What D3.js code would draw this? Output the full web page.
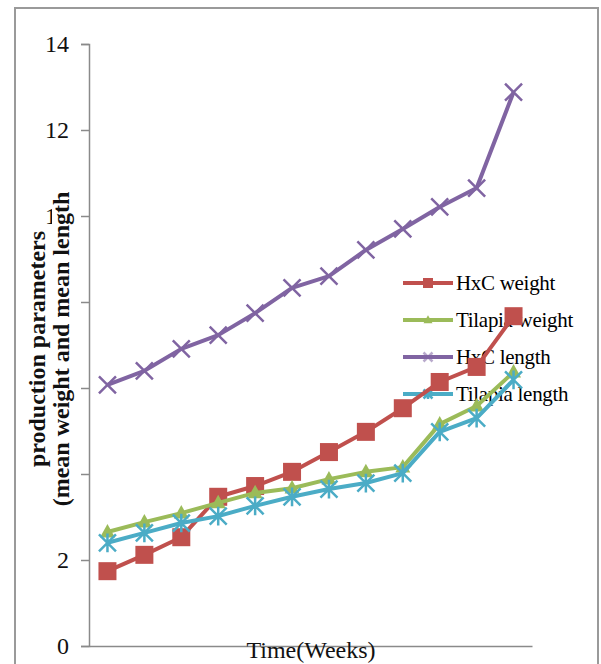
<!DOCTYPE html>
<html>
<head>
<meta charset="utf-8">
<script src="https://cdn.jsdelivr.net/npm/d3@7"></script>
<style>
  html, body { margin: 0; padding: 0; background: #fff; }
  svg { display: block; }
</style>
</head>
<body>
<div id="chart"></div>
<script>
// ---- data ----
const weeks = ["1","2","3","4","5","6","7","8","9","10","11","12"];
const hxcWeight     = [1.74, 2.12, 2.53, 3.47, 3.72, 4.05, 4.51, 4.98, 5.53, 6.14, 6.49, 7.67];
const tilapiaWeight = [2.65, 2.88, 3.09, 3.33, 3.56, 3.67, 3.88, 4.05, 4.16, 5.16, 5.58, 6.37];
const hxcLength     = [6.07, 6.40, 6.91, 7.23, 7.74, 8.33, 8.60, 9.21, 9.70, 10.21, 10.65, 12.88];
const tilapiaLength = [2.40, 2.63, 2.86, 3.02, 3.26, 3.47, 3.65, 3.79, 4.02, 4.98, 5.30, 6.19];
const seriesNames   = ["HxC weight", "Tilapia weight", "HxC length", "Tilapia length"];
const yTicks        = [0, 2, 4, 6, 8, 10, 12, 14];
const yTickLabels   = ["0", "2", "4", "6", "8", "10", "12", "14"];
const xTitle = "Time(Weeks)";
const yTitle1 = "production parameters";
const yTitle2 = "(mean weight and mean length";

const seriesValues = [hxcWeight, tilapiaWeight, hxcLength, tilapiaLength];
const colors  = ["#C0504D", "#9BBB59", "#8064A2", "#4BACC6"];
const markers = ["square", "triangle", "x", "asterisk"];

const W = 601, H = 664;
const svg = d3.select("#chart").append("svg").attr("width", W).attr("height", H);

// outer border
svg.append("rect").attr("x", 15).attr("y", 8).attr("width", 583).attr("height", 670)
  .attr("fill", "#fff").attr("stroke", "#9a9a9a").attr("stroke-width", 2);

const plotLeft = 89, plotRight = 532, plotTop = 44, plotBottom = 646;

const x = d3.scaleBand().domain(weeks).range([plotLeft, plotRight]).padding(0);
const y = d3.scaleLinear().domain([0, 14]).range([plotBottom, plotTop]);
const cx = d => x(d) + x.bandwidth() / 2;

// y axis
const yAxis = d3.axisLeft(y).tickValues(yTicks).tickSize(8).tickPadding(12)
  .tickFormat((d, i) => yTickLabels[i]);
const gy = svg.append("g").attr("transform", `translate(${plotLeft},0)`).call(yAxis);
gy.select(".domain").attr("stroke", "#8a8a8a").attr("stroke-width", 1.5);
gy.selectAll(".tick line").attr("stroke", "#8a8a8a").attr("stroke-width", 1.5);
gy.selectAll(".tick text").attr("font-family", "'Liberation Serif', 'Times New Roman', serif")
  .attr("font-size", 24).attr("fill", "#111");

// x axis (no ticks, no labels)
const xAxis = d3.axisBottom(x).tickSize(0).tickFormat("");
const gx = svg.append("g").attr("transform", `translate(0,${plotBottom})`).call(xAxis);
gx.select(".domain").attr("stroke", "#8a8a8a").attr("stroke-width", 1.5);

// axis titles
svg.append("text").attr("x", 311).attr("y", 658).attr("text-anchor", "middle")
  .attr("font-family", "'Liberation Serif', 'Times New Roman', serif")
  .attr("font-size", 24).attr("fill", "#111").text(xTitle);

function yTitleLine(txt, bx) {
  const g = svg.append("g").attr("transform", `translate(${bx},349) rotate(-90)`);
  const bg = g.append("rect").attr("fill", "#fff");
  const t = g.append("text").attr("text-anchor", "middle")
    .attr("font-family", "'Liberation Serif', 'Times New Roman', serif").attr("font-weight", "bold")
    .attr("font-size", 24).attr("fill", "#111").text(txt);
  const bb = t.node().getBBox();
  bg.attr("x", bb.x).attr("y", -17).attr("width", bb.width).attr("height", 22);
}
yTitleLine(yTitle1, 45);
yTitleLine(yTitle2, 69);

// marker drawing
function drawMarker(g, type, color, px, py, s) {
  if (type === "square") {
    g.append("rect").attr("x", px - s / 2).attr("y", py - s / 2).attr("width", s).attr("height", s)
      .attr("fill", color);
  } else if (type === "triangle") {
    const h = s * 0.9;
    g.append("path").attr("d", `M${px},${py - h * 0.6} L${px + s / 2},${py + h * 0.4} L${px - s / 2},${py + h * 0.4} Z`)
      .attr("fill", color);
  } else if (type === "x") {
    const r = s / 2;
    g.append("path").attr("d", `M${px - r},${py - r} L${px + r},${py + r} M${px - r},${py + r} L${px + r},${py - r}`)
      .attr("stroke", color).attr("stroke-width", 2.5).attr("fill", "none");
  } else if (type === "asterisk") {
    const r = s / 2;
    g.append("path").attr("d",
      `M${px - r},${py - r} L${px + r},${py + r} M${px - r},${py + r} L${px + r},${py - r} M${px},${py - r * 1.1} L${px},${py + r * 1.1}`)
      .attr("stroke", color).attr("stroke-width", 2.5).attr("fill", "none");
  }
}

// legend (drawn under data as in the original)
const legendX = 403, legendY0 = 283, legendDY = 37;
const leg = svg.append("g");
seriesNames.forEach((name, i) => {
  const ly = legendY0 + i * legendDY;
  leg.append("line").attr("x1", legendX).attr("x2", legendX + 50).attr("y1", ly).attr("y2", ly)
    .attr("stroke", colors[i]).attr("stroke-width", 4);
  const lm = leg.append("g").attr("opacity", i === 2 ? 0.55 : 1);
  drawMarker(lm, markers[i], colors[i], legendX + 25, ly, i === 0 ? 10 : 9);
  leg.append("text").attr("x", legendX + 53).attr("y", ly).attr("dy", "0.35em")
    .attr("font-family", "'Liberation Serif', 'Times New Roman', serif")
    .attr("font-size", 21).attr("fill", "#000").attr("letter-spacing", -0.3).text(name);
});

// series
const line = d3.line().x((d, i) => cx(weeks[i])).y(d => y(d));
seriesValues.forEach((vals, si) => {
  const g = svg.append("g");
  g.append("path").datum(vals).attr("d", line).attr("fill", "none")
    .attr("stroke", colors[si]).attr("stroke-width", 4).attr("stroke-linejoin", "round");
  const size = markers[si] === "square" ? 18 : markers[si] === "triangle" ? 15 : 17;
  vals.forEach((v, i) => drawMarker(g, markers[si], colors[si], cx(weeks[i]), y(v), size));
});
</script>
</body>
</html>
